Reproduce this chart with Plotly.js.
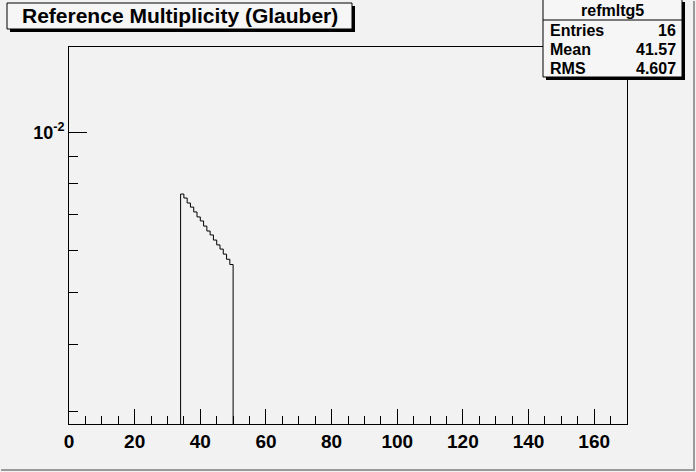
<!DOCTYPE html>
<html>
<head>
<meta charset="utf-8">
<script src="https://cdn.plot.ly/plotly-3.0.1.min.js"></script>
<style>
html,body{margin:0;padding:0;background:#f2f2f2;}
#chart{width:696px;height:472px;}
</style>
</head>
<body>
<div id="chart"></div>
<script>
// ---- data ----
const histName = "refmltg5";
const chartTitle = "Reference Multiplicity (Glauber)";
const binLow = 34;
const binWidth = 1;
const binValues = [0.00766, 0.00753, 0.00737, 0.00724, 0.00709, 0.00694, 0.00682, 0.00667,
                   0.00653, 0.00642, 0.00628, 0.00615, 0.00604, 0.00591, 0.00578, 0.00565];
const statLabels = ["Entries", "Mean", "RMS"];
const statValues = ["16", "41.57", "4.607"];
const xTickVals = [0, 20, 40, 60, 80, 100, 120, 140, 160];
const yTickVals = [0.01];
const yTickText = ["10<sup>-2</sup>"];
const yMinorVals = [0.003, 0.004, 0.005, 0.006, 0.007, 0.008, 0.009];

// ---- build histogram outline ----
const floorVal = 1e-5;
const hx = [binLow], hy = [floorVal];
binValues.forEach((v, i) => { hx.push(binLow + i * binWidth); hy.push(v); });
hx.push(binLow + binValues.length * binWidth); hy.push(floorVal);

// ---- geometry helpers ----
const W = 696, H = 472;
const L = 69, R = 627, T = 47, B = 424;
const px = x => (x - L) / (R - L);
const py = y => (B - y) / (B - T);
const font = "Liberation Sans, Arial, Helvetica, sans-serif";
const bg = "#f2f2f2";

const shapes = [];
const annotations = [];
function rect(x0, y0, x1, y1, fill, lineColor, lw) {
  shapes.push({type: "rect", xref: "paper", yref: "paper",
    x0: px(x0), x1: px(x1), y0: py(y1), y1: py(y0),
    fillcolor: fill, line: {color: lineColor, width: lw}, layer: "above"});
}
function line(x0, y0, x1, y1, color, lw) {
  shapes.push({type: "line", xref: "paper", yref: "paper",
    x0: px(x0), x1: px(x1), y0: py(y0), y1: py(y1),
    line: {color: color, width: lw}, layer: "above"});
}
function text(t, x, y, size, anchor) {
  annotations.push({text: t, xref: "paper", yref: "paper", x: px(x), y: py(y),
    xanchor: anchor, yanchor: "middle", showarrow: false,
    font: {family: font, size: size, color: "#000", weight: "bold"}});
}

// canvas bevel
line(1, 470, 695, 470, "#9a9a9a", 2);
line(694, 1, 694, 470, "#9a9a9a", 2);

// title box with shadow
rect(10, 6, 355, 32, "#000", "#000", 0);
rect(7, 3, 352, 29, "#f6f6f6", "#000", 1);
text(chartTitle, 180, 16, 21, "center");

// stats box with shadow
rect(546, 2, 685, 80, "#000", "#000", 0);
rect(543, -1, 682, 77, "#f6f6f6", "#000", 1);
line(543, 20, 682, 20, "#000", 1);
text(histName, 612, 10.5, 16, "center");
statLabels.forEach((lab, i) => {
  const yy = 30.5 + i * 19;
  text(lab, 548, yy, 16, "left");
  text(statValues[i], 678, yy, 16, "right");
});

const trace = {
  type: "scatter", mode: "lines", x: hx, y: hy,
  line: {shape: "hv", color: "#000", width: 1},
  hoverinfo: "skip", showlegend: false
};

const layout = {
  width: W, height: H,
  margin: {l: L, r: W - R, t: T, b: H - B, pad: 0},
  paper_bgcolor: bg, plot_bgcolor: bg,
  showlegend: false,
  xaxis: {
    range: [0, 170], showgrid: false, zeroline: false,
    showline: true, mirror: true, linecolor: "#000", linewidth: 1,
    tickmode: "array", tickvals: xTickVals,
    ticks: "inside", ticklen: 15, tickcolor: "#000", tickwidth: 1,
    minor: {tickmode: "linear", tick0: 0, dtick: 5, ticks: "inside", ticklen: 8, tickcolor: "#000", tickwidth: 1},
    tickfont: {family: font, size: 19, color: "#000", weight: "bold"}
  },
  yaxis: {
    type: "log", range: [-2.547, -1.840], showgrid: false, zeroline: false,
    showline: true, mirror: true, linecolor: "#000", linewidth: 1,
    tickmode: "array", tickvals: yTickVals, ticktext: yTickText,
    ticks: "inside", ticklen: 18, tickcolor: "#000", tickwidth: 1,
    minor: {tickmode: "array", tickvals: yMinorVals, ticks: "inside", ticklen: 9, tickcolor: "#000", tickwidth: 1},
    tickfont: {family: font, size: 18, color: "#000", weight: "bold"}
  },
  shapes: shapes,
  annotations: annotations
};

Plotly.newPlot("chart", [trace], layout, {displayModeBar: false, staticPlot: true});
</script>
</body>
</html>
